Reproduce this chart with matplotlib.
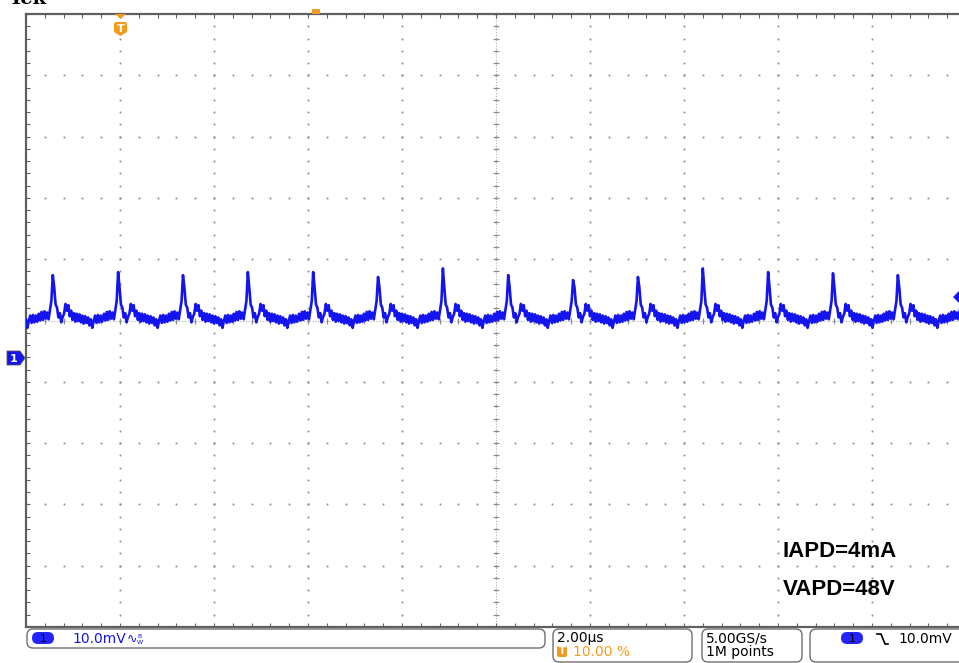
import numpy as np
import matplotlib.pyplot as plt
from matplotlib.patches import FancyBboxPatch, Polygon

# scope settings: 2 us/div, 10 mV/div, trigger at 10 %, ch1 ground 0.6 div below centre
T_LEFT, T_RIGHT = -2.0, 18.0
V_BOTTOM, V_TOP = -44.0, 56.0
BASELINE_MV = 6.2

# peak position (us) and peak level (mV) of every spike on screen
# (first and last are just off screen, so the trace reaches both edges)
peak_times = [-2.81, -1.43, -0.04, 1.34, 2.72, 4.11, 5.49, 6.87,
              8.26, 9.64, 11.02, 12.40, 13.79, 15.17, 16.55, 17.93]
peak_mv = [13.5, 13.4, 13.9, 13.4, 13.9, 13.9, 13.1, 14.5,
           13.4, 12.6, 13.1, 14.5, 13.9, 13.7, 13.4, 13.5]

# one period of the trace around a spike, sampled every 0.03 us from -0.30 us,
# read off the screen as mV above the baseline (None = the spike itself)
shape_mv = [0.9, -0.2, 1.2, -0.1, 1.3, 0.1, 1.1, 0.0, 1.5, 3.0, None,
            5.2, 2.4, 1.9, 0.3, 1.0, -0.5, 0.4, 0.9, 2.5, 1.4,
            2.3, 0.5, 1.4, -0.1, 1.0, -0.4, 0.9, -0.3, 0.8, -0.5,
            0.6, -0.7, 0.5, -0.6, 0.3, -1.0, 0.0, -1.4, -0.3, 0.6,
            -0.6, 0.7, -0.5, 0.6, -0.4, 0.5]
shape_t = np.round(-0.30 + 0.03 * np.arange(len(shape_mv)), 2)

BLUE = '#1414ee'
ORANGE = '#f29c1f'
GRID = '#8c8c8c'
FRAME = '#5f5f5f'

fig = plt.figure(figsize=(9.59, 6.63), dpi=100)
fig.patch.set_facecolor('white')

# graticule axes (runs a bit past the right edge like the screenshot)
ax = fig.add_axes([26 / 959, 36 / 663, 940 / 959, 613 / 663])
ax.set_xlim(T_LEFT, T_RIGHT)
ax.set_ylim(V_BOTTOM, V_TOP)
for side in ['left', 'top', 'bottom']:
    ax.spines[side].set_color(FRAME)
    ax.spines[side].set_linewidth(1.6)
ax.spines['right'].set_visible(False)
ax.set_xticks(np.arange(T_LEFT, T_RIGHT + 0.01, 0.4))
ax.set_yticks(np.arange(V_BOTTOM, V_TOP + 0.01, 2.0))
ax.tick_params(direction='in', length=3, width=0.8, color=FRAME,
               top=True, bottom=True, left=True, right=False,
               labelbottom=False, labelleft=False)

# dotted grid
x_major = np.arange(T_LEFT + 2, T_RIGHT, 2.0)
y_major = np.arange(V_BOTTOM + 10, V_TOP, 10.0)
x_minor = np.arange(T_LEFT, T_RIGHT + 0.01, 0.4)
y_minor = np.arange(V_BOTTOM, V_TOP + 0.01, 2.0)
for xm in x_major:
    ax.plot(np.full(len(y_minor), xm), y_minor, ls='none', marker='s',
            ms=1.3, mec='none', mfc=GRID, zorder=1)
for ym in y_major:
    ax.plot(x_minor, np.full(len(x_minor), ym), ls='none', marker='s',
            ms=1.3, mec='none', mfc=GRID, zorder=1)

# centre lines with ticks
xc, yc = 8.0, 6.0
ax.axvline(xc, color='#b0b0b0', lw=0.8, ls=(0, (1, 1.5)), zorder=1)
ax.axhline(yc, color='#b0b0b0', lw=0.8, ls=(0, (1, 1.5)), zorder=1)
ax.plot(np.full(len(y_minor), xc), y_minor, ls='none', marker='_', ms=5,
        mew=0.8, color=GRID, zorder=1)
ax.plot(x_minor, np.full(len(x_minor), yc), ls='none', marker='|', ms=5,
        mew=0.8, color=GRID, zorder=1)

# channel 1 trace
t_all, v_all = [], []
for tp, hp in zip(peak_times, peak_mv):
    for dt, dv in zip(shape_t, shape_mv):
        t_all.append(tp + dt)
        v_all.append(hp if dv is None else BASELINE_MV + dv)
ax.plot(t_all, v_all, color=BLUE, lw=1.9, zorder=3, clip_on=True)

ax.text(0.805, 0.115, 'IAPD=4mA', transform=ax.transAxes, fontsize=16,
        fontweight='bold', family='Liberation Sans', color='black')
ax.text(0.805, 0.052, 'VAPD=48V', transform=ax.transAxes, fontsize=16,
        fontweight='bold', family='Liberation Sans', color='black')

# overlay in pixel coordinates for the scope furniture
ov = fig.add_axes([0, 0, 1, 1], zorder=5)
ov.set_xlim(0, 959)
ov.set_ylim(663, 0)
ov.axis('off')
ov.patch.set_alpha(0)

# top-left label, mostly cut off like the screenshot
ov.text(9, 4, 'Tek', family='DejaVu Serif', fontweight='bold', fontsize=14,
        va='baseline', color='black')
ov.text(50, 4, "' ' ' ' '", fontsize=7, va='baseline', color='#444444')

# trigger position marker
ov.add_patch(Polygon([[115, 14], [126, 14], [120.5, 19]], closed=True,
                     fc=ORANGE, ec='none'))
ov.add_patch(Polygon([[115, 22], [126, 22], [127, 24], [127, 32], [120.5, 36],
                      [114, 32], [114, 24]], closed=True, fc=ORANGE, ec='none'))
ov.text(120.5, 28.5, 'T', color='white', fontsize=8, fontweight='bold',
        ha='center', va='center')
ov.add_patch(Polygon([[312, 9], [320, 9], [320, 14], [312, 14]], closed=True,
                     fc=ORANGE, ec='none'))

# ch1 ground marker and trigger level marker
ov.add_patch(Polygon([[7, 351], [20, 351], [25, 358], [20, 365], [7, 365]],
                     closed=True, fc=BLUE, ec='#555555', lw=0.6))
ov.text(14, 358.5, '1', color='white', fontsize=8, fontweight='bold',
        ha='center', va='center')
ov.add_patch(Polygon([[959, 291], [959, 303], [953, 297]], closed=True,
                     fc=BLUE, ec='none'))

# status bar
def box(x, y, w, h):
    ov.add_patch(FancyBboxPatch((x, y), w, h,
                                boxstyle='round,pad=0,rounding_size=6',
                                fc='white', ec='#6e6e6e', lw=1.0))

def ch_badge(x, y):
    ov.add_patch(FancyBboxPatch((x, y), 22, 12,
                                boxstyle='round,pad=0,rounding_size=6',
                                fc='#2424ff', ec='none'))
    ov.text(x + 11, y + 6.5, '1', color='black', fontsize=8,
            ha='center', va='center')

box(27, 629, 518, 19)
ch_badge(32, 632)
ov.text(72, 639, '10.0mV', color=BLUE, fontsize=10, va='center')
ov.text(127, 639, '\u223f', color=BLUE, fontsize=9, va='center')
ov.text(137, 636, 'B', color=BLUE, fontsize=4.5, va='center')
ov.text(137, 642, 'W', color=BLUE, fontsize=4.5, va='center')

box(553, 629, 139, 33)
ov.text(557, 638, '2.00\u00b5s', color='black', fontsize=10, va='center')
ov.add_patch(FancyBboxPatch((557, 646), 10, 11,
                            boxstyle='round,pad=0,rounding_size=2',
                            fc=ORANGE, ec='none'))
ov.text(562, 651.5, 'T', color='white', fontsize=7, fontweight='bold',
        ha='center', va='center')
ov.text(573, 652, '10.00 %', color=ORANGE, fontsize=10, va='center')

box(702, 629, 100, 33)
ov.text(706, 638, '5.00GS/s', color='black', fontsize=10, va='center')
ov.text(706, 652, '1M points', color='black', fontsize=10, va='center')

box(810, 629, 160, 33)
ch_badge(841, 632)
ov.plot([877, 881, 885, 888], [634, 634, 644, 644], color='black', lw=1.2)
ov.text(898, 639, '10.0mV', color='black', fontsize=10, va='center')

fig.savefig('out.png', dpi=100)
